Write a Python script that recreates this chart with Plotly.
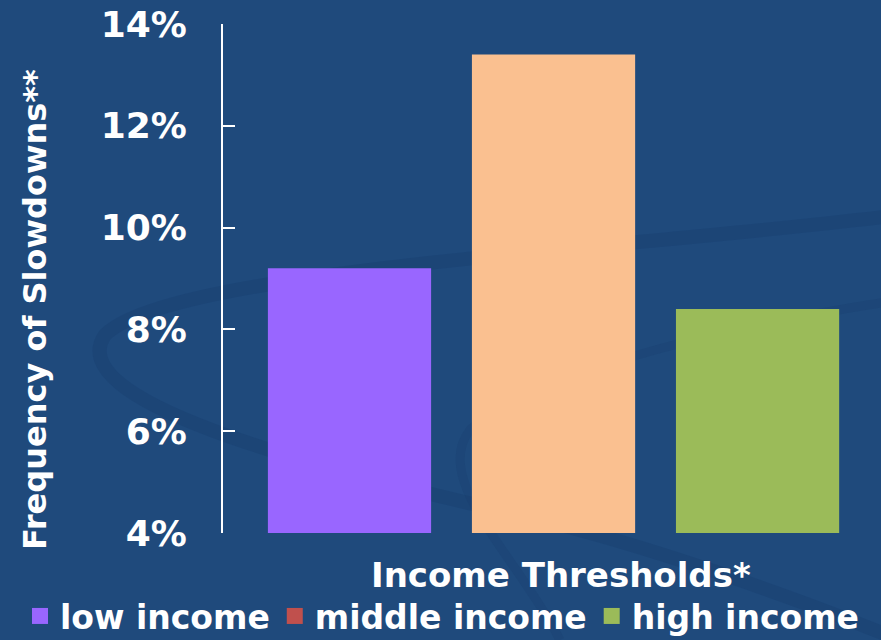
import plotly.graph_objects as go

# Frequency of growth slowdowns by income group (percent)
categories = ["low income", "middle income", "high income"]
frequency_pct = [9.2, 13.4, 8.4]
bar_colors = ["#9966FF", "#FAC090", "#9BBB59"]
legend_colors = ["#9966FF", "#C0504D", "#9BBB59"]
tick_values = [4, 6, 8, 10, 12, 14]
tick_labels = ["4%", "6%", "8%", "10%", "12%", "14%"]

BG = "#1F4A7C"
FONT = "DejaVu Sans"

# Plot-area geometry in pixels
W, H = 881, 640
L, R, T, B = 223, 20, 24, 107
PW, PH = W - L - R, H - T - B


def px_to_paper(x, y):
    return (x - L) / PW, (H - B - y) / PH


def swirl_path(points):
    """SVG path (paper coords) from a start point followed by cubic segments."""
    x0, y0 = px_to_paper(*points[0])
    d = f"M{x0:.4f},{y0:.4f}"
    for i in range(1, len(points), 3):
        seg = [px_to_paper(*p) for p in points[i:i + 3]]
        d += " C" + " ".join(f"{a:.4f},{b:.4f}" for a, b in seg)
    return d


fig = go.Figure()

# Bars (one trace per income group, kept out of the legend)
for cat, val, col in zip(categories, frequency_pct, bar_colors):
    fig.add_trace(go.Bar(
        x=[cat], y=[val], marker=dict(color=col, line=dict(width=0)),
        showlegend=False, hoverinfo="x+y",
    ))

# Legend entries with the series' legend swatch colours
for cat, col in zip(categories, legend_colors):
    fig.add_trace(go.Scatter(
        x=[None], y=[None], mode="markers", name=cat,
        marker=dict(symbol="square", size=20, color=col, line=dict(width=0)),
    ))

leg_x, leg_y = px_to_paper(20, 616)
xt_x, xt_y = px_to_paper(561, 575)
yt_x, yt_y = px_to_paper(35, 310)

# Faint decorative swirl in the slide background
swirls = [
    dict(pts=[(900, 215), (620, 250), (170, 270), (105, 335),
              (60, 400), (300, 465), (520, 515),
              (650, 545), (800, 600), (900, 640)],
         width=14, color="rgba(24,60,108,0.35)"),
    dict(pts=[(900, 300), (700, 330), (520, 380), (470, 430),
              (430, 480), (520, 560), (560, 640)],
         width=9, color="rgba(24,60,108,0.25)"),
]
shapes = [
    dict(type="path", xref="paper", yref="paper", layer="below",
         path=swirl_path(s["pts"]), line=dict(color=s["color"], width=s["width"]),
         fillcolor="rgba(0,0,0,0)")
    for s in swirls
]

fig.update_layout(
    width=W, height=H,
    paper_bgcolor=BG, plot_bgcolor="rgba(0,0,0,0)",
    margin=dict(l=L, r=R, t=T, b=B, autoexpand=False),
    barmode="overlay",
    bargap=0.2,
    font=dict(family=FONT, color="white"),
    showlegend=True,
    legend=dict(
        orientation="h",
        x=leg_x, xanchor="left", y=leg_y, yanchor="middle",
        font=dict(family=FONT, size=33, color="white", weight="bold"),
        bgcolor="rgba(0,0,0,0)", itemsizing="trace",
        tracegroupgap=0, itemwidth=30, borderwidth=0,
    ),
    xaxis=dict(
        type="category", categoryorder="array", categoryarray=categories,
        range=[-0.62, 2.507], showticklabels=False, showgrid=False,
        zeroline=False, showline=False, ticks="",
    ),
    yaxis=dict(
        range=[4, 14], tickvals=tick_values, ticktext=tick_labels,
        showgrid=False, zeroline=False, showline=True, linecolor="white",
        linewidth=2, ticks="inside", ticklen=12, tickwidth=2, tickcolor="white",
        tickfont=dict(family=FONT, size=36, color="white", weight="bold"),
        ticklabelstandoff=27,
    ),
    shapes=shapes,
    annotations=[
        dict(text="Income Thresholds*", xref="paper", yref="paper",
             x=xt_x, y=xt_y, xanchor="center", yanchor="middle",
             showarrow=False,
             font=dict(family=FONT, size=34, color="white", weight="bold")),
        dict(text="Frequency of Slowdowns**", xref="paper", yref="paper",
             x=yt_x, y=yt_y, xanchor="center", yanchor="middle",
             textangle=-90, showarrow=False,
             font=dict(family=FONT, size=32, color="white", weight="bold")),
    ],
)

fig.write_html("out.html")
